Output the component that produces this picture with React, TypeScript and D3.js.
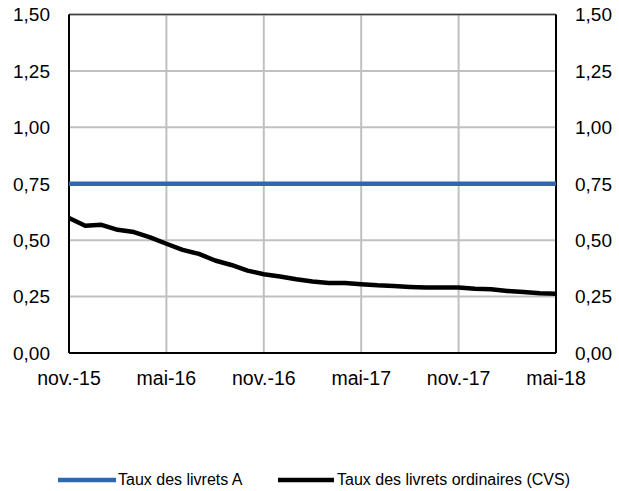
import React from "react";
import * as d3 from "d3";

const months = d3.range(31).map((i) => new Date(2015, 10 + i, 1));
const livretA = months.map(() => 0.75);
const livretsOrd = [
  0.598, 0.564, 0.568, 0.546, 0.536, 0.512, 0.484, 0.457, 0.439, 0.41, 0.39,
  0.365, 0.349, 0.339, 0.327, 0.317, 0.31, 0.31, 0.305, 0.3, 0.297, 0.293,
  0.29, 0.29, 0.29, 0.285, 0.282, 0.275, 0.27, 0.265, 0.263,
];
const yTicks = [0, 0.25, 0.5, 0.75, 1.0, 1.25, 1.5];
const xTickIdx = [0, 6, 12, 18, 24, 30];
const xTickLabels = ["nov.-15", "mai-16", "nov.-16", "mai-17", "nov.-17", "mai-18"];
const seriesNames = ["Taux des livrets A", "Taux des livrets ordinaires (CVS)"];

export default function App() {
  const W = 619, H = 491;
  const left = 69, right = 556, top = 14.5, bottom = 353;
  const x = d3.scaleLinear().domain([0, 30]).range([left, right]);
  const y = d3.scaleLinear().domain([0, 1.5]).range([bottom, top]);
  const line = d3.line<number>().x((_, i) => x(i)).y((d) => y(d));
  const font = "Liberation Sans, Arial, sans-serif";
  return (
    <svg width={W} height={H} style={{ position: "absolute", left: 0, top: 0 }}>
      <rect width={W} height={H} fill="#fff" />
      {yTicks.map((t) => (
        <line key={"g" + t} x1={left} x2={right} y1={y(t)} y2={y(t)} stroke="#c0c0c0" strokeWidth={2} />
      ))}
      {xTickIdx.map((i) => (
        <line key={"v" + i} x1={x(i)} x2={x(i)} y1={top} y2={bottom} stroke="#c0c0c0" strokeWidth={2} />
      ))}
      <line x1={left} x2={right} y1={top} y2={top} stroke="#404040" strokeWidth={1.5} />
      <line x1={left} x2={left} y1={top} y2={bottom} stroke="#000" strokeWidth={2} />
      <line x1={right} x2={right} y1={top} y2={bottom} stroke="#000" strokeWidth={2} />
      <line x1={left} x2={right} y1={bottom} y2={bottom} stroke="#000" strokeWidth={2} />
      <path d={line(livretA) || ""} fill="none" stroke="#2e68b0" strokeWidth={4.5} />
      <path d={line(livretsOrd) || ""} fill="none" stroke="#000" strokeWidth={4.5} strokeLinejoin="round" />
      {yTicks.map((t) => (
        <g key={"l" + t} fontFamily={font} fontSize={19} fill="#000">
          <text x={50} y={y(t)} dy="0.36em" textAnchor="end">{t.toFixed(2).replace(".", ",")}</text>
          <text x={575} y={y(t)} dy="0.36em" textAnchor="start">{t.toFixed(2).replace(".", ",")}</text>
        </g>
      ))}
      {xTickIdx.map((i, k) => (
        <text key={"x" + i} x={x(i)} y={385} textAnchor="middle" fontFamily={font} fontSize={19.5}>{xTickLabels[k]}</text>
      ))}
      <g fontFamily={font} fontSize={16}>
        <line x1={58} x2={116} y1={480} y2={480} stroke="#2e68b0" strokeWidth={4.5} />
        <text x={118} y={485}>{seriesNames[0]}</text>
        <line x1={278} x2={334} y1={480} y2={480} stroke="#000" strokeWidth={4.5} />
        <text x={337} y={485}>{seriesNames[1]}</text>
      </g>
    </svg>
  );
}
